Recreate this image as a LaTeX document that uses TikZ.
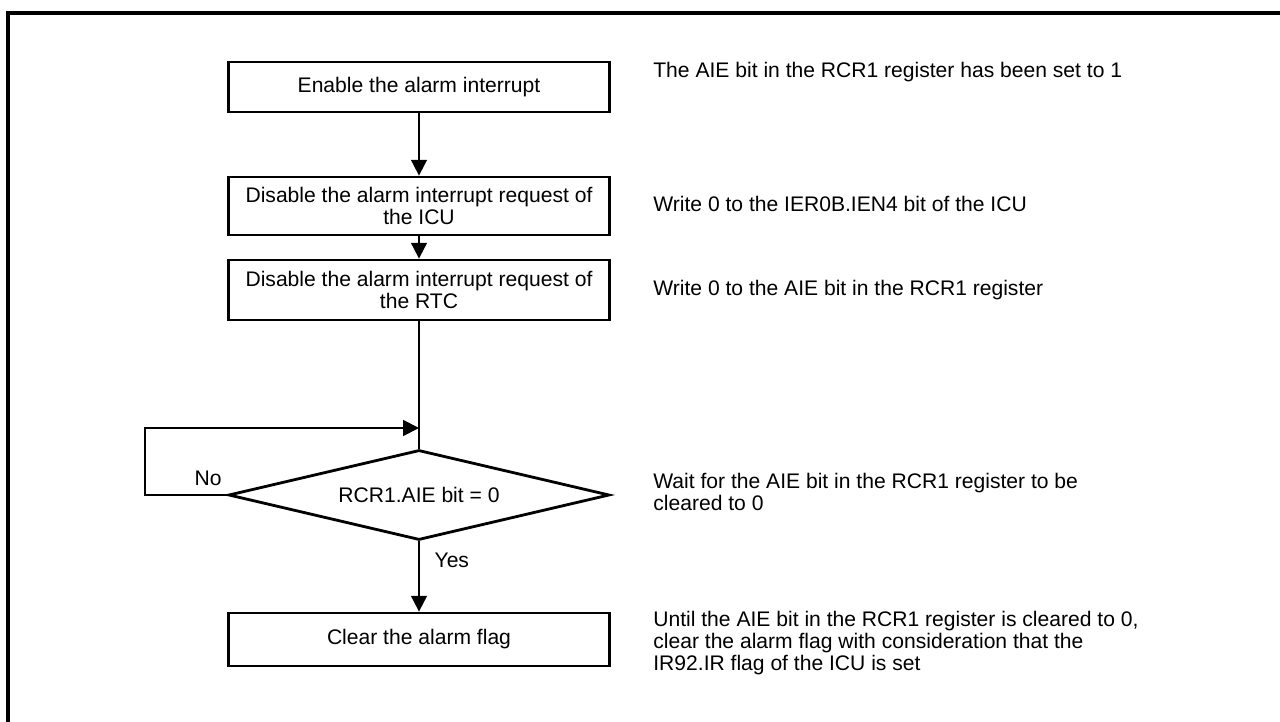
\documentclass[tikz,border=0pt]{standalone}
\usepackage{fontspec}
\setmainfont{Liberation Sans}
\usetikzlibrary{arrows.meta,shapes.geometric,positioning}

\tikzset{
  stepbox/.style={draw, line width=1.6pt, rectangle, minimum width=7.62cm, align=center, inner sep=0pt},
  decide/.style={draw, line width=1.6pt, diamond, shape aspect=4.23, minimum width=7.62cm, minimum height=1.8cm, inner sep=0pt},
  note/.style={anchor=west, align=left, inner sep=0pt},
  flow/.style={line width=1.1pt, -{Triangle[length=9pt,width=9pt]}},
  plain/.style={line width=1.1pt}
}

\begin{document}
\begin{tikzpicture}[x=0.02cm, y=-0.02cm, font=\fontsize{12}{12.6}\selectfont]
    % Fix the page size
    \useasboundingbox (0,0) rectangle (1280,722);

    % Draw the outer frame (only top and left edges are visible)
    \draw[line width=1.9pt] (8,722) |- (1280,13);

    % Draw the process boxes
    \node[stepbox, minimum height=1.0cm] (enable) at (419,87) {Enable the alarm interrupt};
    \node[stepbox, minimum height=1.16cm] (icu) at (419,206) {Disable the alarm interrupt request of\\the ICU};
    \node[stepbox, minimum height=1.2cm] (rtc) at (419,290) {Disable the alarm interrupt request of\\the RTC};
    \node[decide] (check) at (419,495) {RCR1.AIE bit = 0};
    \node[stepbox, minimum height=1.06cm] (clear) at (419,639.5) {Clear the alarm flag};

    % Define the join point of the loop
    \coordinate (join) at (419,428);
    \coordinate (loopL) at (145,495);

    % Draw the connectors
    \draw[flow] (enable) -- (icu);
    \draw[flow] (icu) -- (rtc);
    \draw[plain] (rtc) -- (check.north);
    \draw[flow] (check.west) -- (loopL) |- (join);
    \draw[flow] (check.south) -- node[anchor=west, pos=0.27, xshift=5pt] (yes) {Yes} (clear);
    \node (no) at (208,478) {No};

    % Write the notes beside the steps
    \node[note] (n1) at (653,72) {The AIE bit in the RCR1 register has been set to 1};
    \node[note] (n2) at (653,204) {Write 0 to the IER0B.IEN4 bit of the ICU};
    \node[note] (n3) at (653,290) {Write 0 to the AIE bit in the RCR1 register};
    \node[note] (n4) at (653,492) {Wait for the AIE bit in the RCR1 register to be\\cleared to 0};
    \node[note] (n5) at (653,643) {Until the AIE bit in the RCR1 register is cleared to 0,\\clear the alarm flag with consideration that the\\IR92.IR flag of the ICU is set};

\end{tikzpicture}
\end{document}
